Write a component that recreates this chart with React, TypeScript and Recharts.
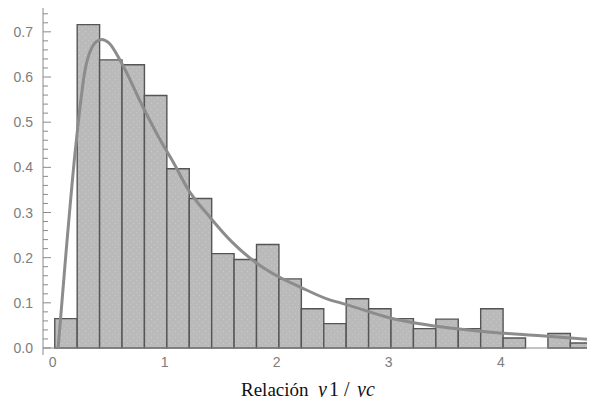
import {
  ComposedChart,
  Line,
  XAxis,
  YAxis,
  ReferenceArea,
  ReferenceLine,
} from 'recharts';

// Histograma de la relación y1/yc con la densidad ajustada encima.
const binEdges = [
  0.02, 0.22, 0.42, 0.62, 0.82, 1.02, 1.22, 1.42, 1.62, 1.82, 2.02, 2.22, 2.42,
  2.62, 2.82, 3.02, 3.22, 3.42, 3.62, 3.82, 4.02, 4.22, 4.42, 4.62, 4.82,
];
const binHeights = [
  0.065, 0.716, 0.638, 0.627, 0.559, 0.397, 0.331, 0.209, 0.196, 0.229, 0.153,
  0.087, 0.054, 0.109, 0.087, 0.065, 0.043, 0.064, 0.043, 0.087, 0.022, 0,
  0.032, 0.011,
];

// densidad ajustada
const curveX = [
  0.05, 0.12, 0.2, 0.23, 0.29, 0.35, 0.39, 0.44, 0.5, 0.61, 0.81, 0.96, 1.08,
  1.2, 1.41, 1.6, 1.81, 2.0, 2.21, 2.48, 2.57, 3.02, 3.46, 3.91, 4.36, 4.84,
];
const curveY = [
  0, 0.21, 0.43, 0.5, 0.615, 0.665, 0.678, 0.683, 0.676, 0.634, 0.532, 0.461,
  0.41, 0.355, 0.288, 0.235, 0.19, 0.16, 0.135, 0.106, 0.1, 0.066, 0.047,
  0.035, 0.027, 0.018,
];

const xTicks = [0, 1, 2, 3, 4];
const yMajor = [0, 0.1, 0.2, 0.3, 0.4, 0.5, 0.6, 0.7];
const yTicks = Array.from({ length: 38 }, (_, i) => +(i * 0.02).toFixed(2));

const curveData = curveX.map((x, i) => ({ x, y: curveY[i] }));

const AXIS = '#8a8a8a';
const LABEL = '#7d7d7d';
const SANS = '"Liberation Sans", Arial, sans-serif';
const SERIF = '"Liberation Serif", "Times New Roman", serif';

function YTick({ x, y, payload }: any) {
  const v = payload.value as number;
  const major = yMajor.some((m) => Math.abs(m - v) < 1e-6);
  return (
    <g>
      <line x1={x} x2={x + (major ? 8 : 5)} y1={y} y2={y} stroke={AXIS} strokeWidth={1} />
      {major && (
        <text x={x - 10} y={y + 5} textAnchor="end" fill={LABEL} fontSize={14} fontFamily={SANS}>
          {v.toFixed(1)}
        </text>
      )}
    </g>
  );
}

function XTick({ x, y, payload }: any) {
  return (
    <text x={x} y={y + 12} textAnchor="middle" fill={LABEL} fontSize={14} fontFamily={SANS}>
      {payload.value}
    </text>
  );
}

function AxisTitle({ viewBox }: any) {
  const cx = viewBox.x + viewBox.width / 2;
  const y = viewBox.y + 41;
  return (
    <text y={y} fontSize={19} fontFamily={SERIF} fill="#111">
      <tspan x={cx - 78}>Relación</tspan>
      <tspan x={cx - 1} fontSize={20} fontStyle="italic">y</tspan>
      <tspan x={cx + 10} fontSize={20}>1</tspan>
      <tspan x={cx + 25} fontSize={20}>/</tspan>
      <tspan x={cx + 38} fontSize={20} fontStyle="italic">yc</tspan>
    </text>
  );
}

export default function App() {
  return (
    <div style={{ margin: -8, width: 595, height: 405, background: '#fff' }}>
      <svg width={0} height={0} style={{ position: 'absolute' }}>
        <defs>
          <pattern id="stipple" width={6} height={6} patternUnits="userSpaceOnUse">
            <rect width={6} height={6} fill="#bababa" />
            <rect x={1} y={1} width={1} height={1} fill="#cbcbcb" />
            <rect x={4} y={4} width={1} height={1} fill="#c6c6c6" />
          </pattern>
        </defs>
      </svg>
      <ComposedChart
        width={595}
        height={405}
        data={curveData}
        margin={{ top: 7, right: 0, left: 0, bottom: 30 }}
      >
        <XAxis
          dataKey="x"
          type="number"
          domain={[-0.085, 4.84]}
          allowDataOverflow
          ticks={xTicks}
          interval={0}
          axisLine={false}
          tickLine={false}
          tickSize={0}
          tickMargin={0}
          height={20}
          tick={<XTick />}
          label={<AxisTitle />}
        />
        <YAxis
          type="number"
          domain={[-0.0155, 0.755]}
          allowDataOverflow
          ticks={yTicks}
          interval={0}
          width={43}
          tickSize={0}
          tickMargin={0}
          tickLine={false}
          axisLine={{ stroke: AXIS, strokeWidth: 1 }}
          tick={<YTick />}
        />
        {binHeights.map((h, i) =>
          h > 0 ? (
            <ReferenceArea
              key={i}
              x1={binEdges[i]}
              x2={binEdges[i + 1]}
              y1={0}
              y2={h}
              fill="url(#stipple)"
              fillOpacity={1}
              stroke="#555"
              strokeWidth={1.4}
              ifOverflow="visible"
            />
          ) : null,
        )}
        <ReferenceLine y={0} stroke={AXIS} strokeWidth={1} ifOverflow="visible" />
        <Line
          dataKey="y"
          type="monotone"
          stroke="#8c8c8c"
          strokeWidth={3}
          dot={false}
          activeDot={false}
          isAnimationActive={false}
        />
      </ComposedChart>
    </div>
  );
}
